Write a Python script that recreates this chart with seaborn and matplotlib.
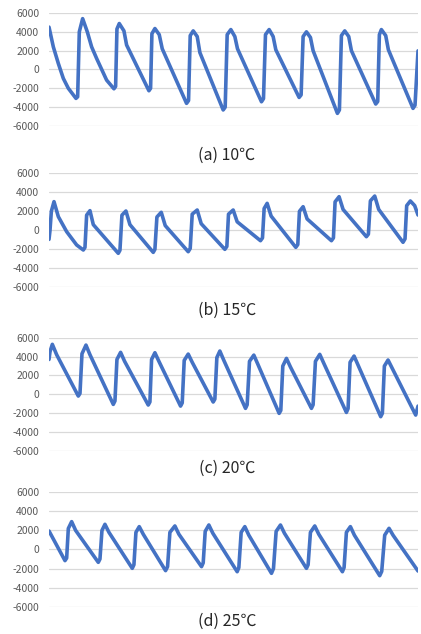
import matplotlib
matplotlib.use("Agg")
import matplotlib.pyplot as plt
import seaborn as sns
import pandas as pd

# sample positions / values
t_10 = [0, 13, 28, 43, 58, 81, 86, 91, 101, 115, 128, 143, 173, 195, 200, 204, 211, 225, 233,
        300, 305, 309, 318, 331, 340, 413, 419, 424, 433, 445, 453, 523, 529, 535, 546, 558, 566,
        638, 644, 650, 661, 673, 681, 751, 757, 763, 773, 785, 793, 866, 872, 878, 888, 900, 908,
        981, 987, 992, 998, 1011, 1019, 1093, 1099, 1108]
v_10 = [4500, 2400, 640, -950, -2000, -3070, -2900, 4000, 5400, 4000, 2400, 1170, -1130, -2050,
        -1800, 4300, 4880, 4100, 2600, -2260, -2000, 3800, 4350, 3700, 2200, -3600, -3300, 3600,
        4100, 3500, 1800, -4300, -4000, 3700, 4240, 3500, 2200, -3430, -3100, 3700, 4240, 3500,
        2100, -2970, -2700, 3500, 4000, 3400, 2000, -4660, -4300, 3600, 4100, 3500, 2000, -3670,
        -3400, 3700, 4240, 3600, 2100, -4130, -3800, 1980]

t_15 = [0, 3, 7, 15, 28, 53, 83, 103, 108, 113, 123, 133, 208, 213, 219, 231, 243, 313, 318, 324,
        337, 349, 418, 424, 430, 445, 457, 528, 534, 539, 553, 565, 635, 641, 646, 655, 667, 741,
        747, 752, 763, 775, 848, 854, 859, 871, 883, 953, 959, 965, 978, 990, 1063, 1069, 1074,
        1085, 1098, 1108]
v_15 = [-950, 0, 2000, 3020, 1440, -140, -1540, -2070, -1800, 1600, 2070, 600, -2420, -2100, 1600,
        2035, 600, -2320, -2000, 1400, 1900, 500, -2250, -1900, 1700, 2140, 700, -2000, -1700,
        1700, 2140, 900, -1090, -800, 2300, 2840, 1500, -1790, -1500, 2000, 2490, 1200, -1090,
        -800, 3000, 3540, 2200, -670, -400, 3100, 3610, 2200, -1260, -900, 2600, 3090, 2600, 1610]

t_20 = [0, 3, 10, 23, 88, 93, 99, 111, 123, 193, 198, 204, 215, 227, 298, 303, 308, 318, 330, 395,
        400, 406, 418, 430, 493, 498, 504, 513, 525, 590, 595, 602, 615, 627, 691, 696, 702, 713,
        725, 788, 793, 800, 813, 825, 893, 898, 904, 916, 928, 996, 1001, 1007, 1018, 1030, 1101,
        1108]
v_20 = [3700, 4520, 5300, 4200, -180, 100, 4300, 5220, 4200, -1060, -700, 3700, 4450, 3500, -1130,
        -800, 3700, 4410, 3500, -1240, -900, 3600, 4270, 3400, -810, -500, 3900, 4590, 3600, -1480,
        -1100, 3500, 4160, 3200, -2010, -1700, 3000, 3810, 2900, -1480, -1100, 3500, 4240, 3300,
        -1910, -1500, 3400, 4060, 3100, -2360, -2000, 3000, 3640, 2800, -2190, -1240]

t_25 = [0, 48, 53, 58, 68, 80, 148, 153, 159, 168, 180, 250, 255, 261, 271, 283, 350, 356, 363,
        378, 390, 458, 463, 469, 480, 492, 565, 570, 577, 588, 600, 668, 674, 682, 695, 707, 773,
        778, 785, 798, 810, 881, 886, 893, 905, 917, 993, 999, 1008, 1021, 1033, 1108]
v_25 = [1940, -1170, -900, 2200, 2920, 2000, -1350, -1000, 2000, 2640, 1800, -1980, -1600, 1800,
        2400, 1600, -2220, -1800, 1800, 2470, 1600, -1800, -1400, 1900, 2570, 1700, -2330, -1900,
        1800, 2400, 1500, -2500, -2000, 1900, 2570, 1700, -1980, -1600, 1800, 2470, 1600, -2330,
        -1900, 1800, 2400, 1500, -2750, -2300, 1500, 2220, 1500, -2260]

captions = ["(a) 10℃", "(b) 15℃", "(c) 20℃", "(d) 25℃"]
y_ticks = [-6000, -4000, -2000, 0, 2000, 4000, 6000]

sns.set_theme(style="white")
plt.rcParams['font.family'] = ['Noto Sans CJK KR', 'DejaVu Sans']

fig = plt.figure(figsize=(4.21, 6.34), dpi=100)

# axes boxes in figure fractions (left, bottom, width, height)
boxes = [(0.1164, 0.8013, 0.8765, 0.1782),
         (0.1164, 0.5468, 0.8765, 0.1798),
         (0.1164, 0.2886, 0.8765, 0.1787),
         (0.1164, 0.0431, 0.8765, 0.1804)]
cap_y = [155, 310.7, 468, 621.7]

series = [(t_10, v_10), (t_15, v_15), (t_20, v_20), (t_25, v_25)]

for i in range(4):
    ax = fig.add_axes(boxes[i])
    df = pd.DataFrame({"t": series[i][0], "v": series[i][1]})
    sns.lineplot(data=df, x="t", y="v", ax=ax, color="#4472C4", linewidth=2.6,
                 estimator=None, solid_joinstyle="round", solid_capstyle="round")
    ax.set_xlim(0, 1108)
    ax.set_ylim(-6000, 6000)
    ax.set_yticks(y_ticks)
    ax.set_yticklabels([str(v) for v in y_ticks])
    ax.set_xticks([])
    ax.set_xlabel("")
    ax.set_ylabel("")
    for s in ax.spines.values():
        s.set_visible(False)
    ax.grid(axis="y", color="#D9D9D9", linewidth=0.9)
    ax.set_axisbelow(True)
    ax.tick_params(axis="y", length=0, pad=7, labelsize=7.5, labelcolor="#595959")
    fig.text(227 / 421, 1 - cap_y[i] / 634, captions[i], ha="center", va="center",
             fontsize=11.5, color="#262626")

fig.savefig("out.png", dpi=100)
